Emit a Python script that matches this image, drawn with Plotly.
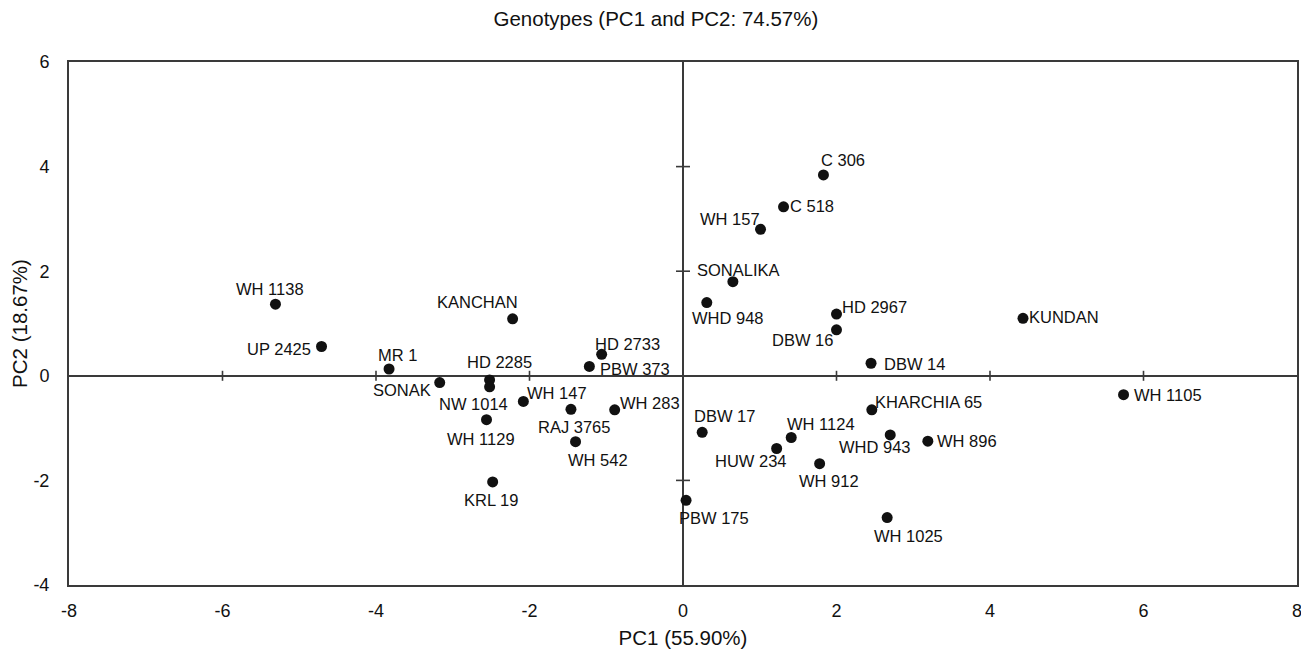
import plotly.graph_objects as go

# ---- data ----
genotypes = ["WH 1138", "UP 2425", "MR 1", "SONAK", "HD 2285", "NW 1014", "KANCHAN",
             "WH 147", "WH 1129", "RAJ 3765", "WH 542", "KRL 19", "HD 2733", "PBW 373",
             "WH 283", "C 306", "C 518", "WH 157", "SONALIKA", "WHD 948", "HD 2967",
             "DBW 16", "KUNDAN", "DBW 14", "WH 1105", "KHARCHIA 65", "WHD 943", "WH 896",
             "DBW 17", "WH 1124", "HUW 234", "WH 912", "PBW 175", "WH 1025"]
pc1 = [-5.31, -4.71, -3.83, -3.17, -2.52, -2.52, -2.22,
       -2.08, -2.56, -1.46, -1.40, -2.48, -1.06, -1.22,
       -0.89, 1.83, 1.31, 1.01, 0.65, 0.31, 2.00,
       2.00, 4.43, 2.45, 5.74, 2.46, 2.70, 3.19,
       0.25, 1.41, 1.22, 1.78, 0.04, 2.66]
pc2 = [1.37, 0.56, 0.13, -0.13, -0.08, -0.21, 1.09,
       -0.49, -0.84, -0.64, -1.26, -2.03, 0.41, 0.18,
       -0.65, 3.84, 3.23, 2.80, 1.80, 1.40, 1.18,
       0.88, 1.10, 0.24, -0.36, -0.65, -1.13, -1.25,
       -1.08, -1.18, -1.39, -1.68, -2.38, -2.71]
x_ticks = [-8, -6, -4, -2, 0, 2, 4, 6, 8]
x_tick_labels = ["-8", "-6", "-4", "-2", "0", "2", "4", "6", "8"]
y_ticks = [-4, -2, 0, 2, 4, 6]
y_tick_labels = ["-4", "-2", "0", "2", "4", "6"]
title_text = "Genotypes (PC1 and PC2: 74.57%)"
x_title = "PC1 (55.90%)"
y_title = "PC2 (18.67%)"

# ---- label placement (pixel offsets of each label centre from its point) ----
label_offsets = {
    "WH 1138": (-5, -15), "UP 2425": (-43, 2), "MR 1": (8, -14), "SONAK": (-38, 7),
    "HD 2285": (10, -18), "NW 1014": (-16, 17), "KANCHAN": (-35, -17), "WH 147": (34, -8),
    "WH 1129": (-6, 19), "RAJ 3765": (3, 18), "WH 542": (22, 18), "KRL 19": (-2, 18),
    "HD 2733": (26, -10), "PBW 373": (46, 3), "WH 283": (35, -7), "C 306": (20, -15),
    "C 518": (28, -1), "WH 157": (-31, -10), "SONALIKA": (6, -12), "WHD 948": (21, 15),
    "HD 2967": (38, -7), "DBW 16": (-34, 10), "KUNDAN": (41, -1), "DBW 14": (43, 1),
    "WH 1105": (44, 0), "KHARCHIA 65": (57, -8), "WHD 943": (-15, 12), "WH 896": (39, 0),
    "DBW 17": (22, -16), "WH 1124": (30, -14), "HUW 234": (-26, 12), "WH 912": (9, 17),
    "PBW 175": (28, 18), "WH 1025": (21, 18),
}

FONT = "Liberation Sans, Arial, sans-serif"
LINE = "#3a3a3a"
TXT = "#111111"

fig = go.Figure()
fig.add_trace(go.Scatter(
    x=pc1, y=pc2, mode="markers",
    marker=dict(size=11, color=TXT),
    text=genotypes, hoverinfo="text", showlegend=False,
))

for name, xv, yv in zip(genotypes, pc1, pc2):
    dx, dy = label_offsets[name]
    fig.add_annotation(x=xv, y=yv, text=name, showarrow=False,
                       xshift=dx, yshift=-dy,
                       font=dict(family=FONT, size=16.5, color=TXT))

# crossing tick marks on the zero lines
for v in x_ticks:
    if v in (x_ticks[0], 0, x_ticks[-1]):
        continue
    fig.add_shape(type="line", xref="x", yref="y", x0=v, x1=v,
                  ysizemode="pixel", yanchor=0, y0=-5, y1=5,
                  line=dict(color=LINE, width=1.6))
for v in y_ticks:
    if v in (y_ticks[0], 0, y_ticks[-1]):
        continue
    fig.add_shape(type="line", xref="x", yref="y", y0=v, y1=v,
                  xsizemode="pixel", xanchor=0, x0=-7, x1=7,
                  line=dict(color=LINE, width=1.6))

# the page body adds an ~8px margin, so the figure is sized to fit the window
fig.update_layout(
    width=1301, height=646,
    margin=dict(l=61, r=12, t=54, b=69, autoexpand=False),
    paper_bgcolor="white", plot_bgcolor="white",
    font=dict(family=FONT, color=TXT),
    title=dict(text=title_text, x=0.498, xanchor="center", y=0.984, yanchor="middle",
               font=dict(family=FONT, size=20.5, color=TXT)),
    xaxis=dict(range=[-8, 8], tickvals=x_ticks, ticktext=x_tick_labels, showgrid=False,
               automargin=False,
               zeroline=True, zerolinecolor=LINE, zerolinewidth=2,
               showline=True, linecolor=LINE, linewidth=2, mirror=True,
               ticks="", ticklabelstandoff=8,
               tickfont=dict(family=FONT, size=18, color=TXT),
               title=dict(text=x_title, standoff=11,
                          font=dict(family=FONT, size=20.5, color=TXT))),
    yaxis=dict(range=[-4, 6], tickvals=y_ticks, ticktext=y_tick_labels, showgrid=False,
               automargin=False,
               zeroline=True, zerolinecolor=LINE, zerolinewidth=2,
               showline=True, linecolor=LINE, linewidth=2, mirror=True,
               ticks="", ticklabelstandoff=14,
               tickfont=dict(family=FONT, size=18, color=TXT),
               title=dict(text=y_title, standoff=12,
                          font=dict(family=FONT, size=20.5, color=TXT))),
)

fig.write_html("out.html")
